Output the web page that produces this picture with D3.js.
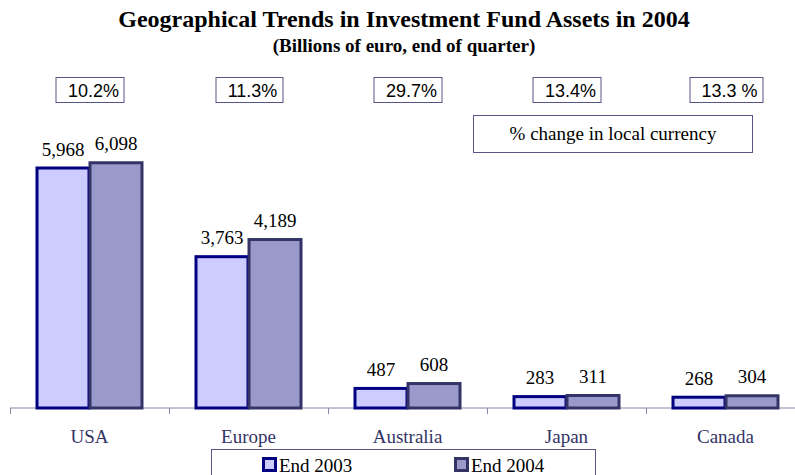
<!DOCTYPE html>
<html><head><meta charset="utf-8">
<script src="https://cdn.jsdelivr.net/npm/d3@7"></script>
<style>
html,body{margin:0;padding:0;background:#fff;}
svg{display:block;}
</style></head>
<body>
<svg id="chart" width="795" height="475"></svg>
<script>
const categories = ["USA", "Europe", "Australia", "Japan", "Canada"];
const seriesNames = ["End 2003", "End 2004"];
const end2003 = [5968, 3763, 487, 283, 268];
const end2004 = [6098, 4189, 608, 311, 304];
const pctChange = ["10.2%", "11.3%", "29.7%", "13.4%", "13.3 %"];
const title = "Geographical Trends in Investment Fund Assets in 2004";
const subtitle = "(Billions of euro, end of quarter)";
const noteText = "% change in local currency";

const svg = d3.select("#chart");
const serif = "'Liberation Serif','Times New Roman',serif";
const sans = "'Liberation Sans',Arial,sans-serif";

const x0 = d3.scaleBand().domain(categories).range([10, 805]).paddingInner(0).paddingOuter(0);
const x1 = d3.scaleBand().domain(seriesNames).range([0, x0.bandwidth()]).paddingInner(0).paddingOuter(0.5);
const y = d3.scaleLinear().domain([0, 7000]).range([408, 126.5]);

const fills = ["#CCCCFF", "#9999CC"];
const strokes = ["#000080", "#333366"];

// title
svg.append("text").attr("x", 404).attr("y", 27).attr("text-anchor", "middle")
  .attr("font-family", serif).attr("font-weight", "bold").attr("font-size", 24).text(title);
svg.append("text").attr("x", 404).attr("y", 52).attr("text-anchor", "middle")
  .attr("font-family", serif).attr("font-weight", "bold").attr("font-size", 19).text(subtitle);

// axis
const axisG = svg.append("g").attr("transform", "translate(0,408)");
axisG.append("line").attr("x1", 10).attr("x2", 795).attr("y1", 0).attr("y2", 0)
  .attr("stroke", "#8888aa").attr("stroke-width", 1.2);
const tickXs = categories.map(c => x0(c));
axisG.selectAll("line.tick").data(tickXs).join("line").attr("class", "tick")
  .attr("x1", d => d + 0.5).attr("x2", d => d + 0.5).attr("y1", 0).attr("y2", 6)
  .attr("stroke", "#8888aa").attr("stroke-width", 1);
svg.selectAll("text.cat").data(categories).join("text").attr("class", "cat")
  .attr("x", d => x0(d) + x0.bandwidth() / 2).attr("y", 443).attr("text-anchor", "middle")
  .attr("font-family", serif).attr("font-size", 19).attr("fill", "#333366").text(d => d);

// bars
const rows = categories.map((c, i) => ({ cat: c, vals: [end2003[i], end2004[i]] }));
const grp = svg.selectAll("g.cat").data(rows).join("g").attr("class", "cat")
  .attr("transform", d => `translate(${x0(d.cat)},0)`);
grp.selectAll("rect").data(d => d.vals.map((v, j) => ({ v, j }))).join("rect")
  .attr("x", d => x1(seriesNames[d.j]) + 0.5)
  .attr("y", d => y(d.v))
  .attr("width", x1.bandwidth() - 1)
  .attr("height", d => y(0) - y(d.v))
  .attr("fill", d => fills[d.j]).attr("stroke", d => strokes[d.j]).attr("stroke-width", 3);
grp.selectAll("text.val").data(d => d.vals.map((v, j) => ({ v, j }))).join("text").attr("class", "val")
  .attr("x", d => x1(seriesNames[d.j]) + x1.bandwidth() / 2)
  .attr("y", d => y(d.v) - 12.5).attr("text-anchor", "middle")
  .attr("font-family", serif).attr("font-size", 19).attr("fill", "#000")
  .text(d => d3.format(",")(d.v));

// pct boxes
const pg = svg.selectAll("g.pct").data(categories).join("g").attr("class", "pct")
  .attr("transform", d => `translate(${x0(d) + x0.bandwidth() / 2},0)`);
const pRects = pg.append("rect").attr("fill", "#fff").attr("stroke", "#555588").attr("stroke-width", 1);
const pTexts = pg.append("text").attr("x", 4).attr("y", 96.5).attr("text-anchor", "middle")
  .attr("font-family", sans).attr("font-size", 18).text((d, i) => pctChange[i]);
pTexts.each(function (d, i) {
  const b = this.getBBox();
  d3.select(this.parentNode).select("rect")
    .attr("x", Math.round(b.x - 12) + 0.5).attr("y", 77.5)
    .attr("width", Math.round(b.width + 17)).attr("height", 25);
});

// note box
svg.append("rect").attr("x", 473.5).attr("y", 115.5).attr("width", 279).attr("height", 37)
  .attr("fill", "#fff").attr("stroke", "#555588").attr("stroke-width", 1);
svg.append("text").attr("x", 613).attr("y", 140).attr("text-anchor", "middle")
  .attr("font-family", serif).attr("font-size", 19).text(noteText);

// legend
svg.append("rect").attr("x", 211.5).attr("y", 449.5).attr("width", 384).attr("height", 30)
  .attr("fill", "#fff").attr("stroke", "#555588").attr("stroke-width", 1);
const lg = svg.selectAll("g.leg").data(seriesNames).join("g").attr("class", "leg")
  .attr("transform", (d, i) => `translate(${[262, 454][i]},457)`);
lg.append("rect").attr("x", 1.5).attr("y", 1.5).attr("width", 12).attr("height", 12)
  .attr("fill", (d, i) => fills[i]).attr("stroke", (d, i) => strokes[i]).attr("stroke-width", 3);
lg.append("text").attr("x", 17).attr("y", 14.5).attr("font-family", serif).attr("font-size", 19)
  .text(d => d);
</script>
</body></html>
